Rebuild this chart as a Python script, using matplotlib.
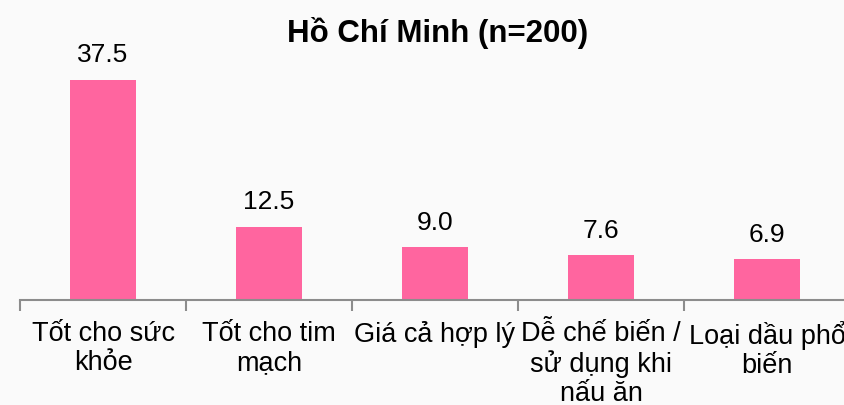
import matplotlib
matplotlib.use("Agg")
from matplotlib import pyplot as plt

categories = [
    "Tốt cho sức\nkhỏe",
    "Tốt cho tim\nmạch",
    "Giá cả hợp lý",
    "Dễ chế biến /\nsử dụng khi\nnấu ăn",
    "Loại dầu phổ\nbiến",
]
values = [37.5, 12.5, 9.0, 7.6, 6.9]
title = "Hồ Chí Minh (n=200)"

plt.rcParams["font.family"] = ["Liberation Sans", "DejaVu Sans"]

fig = plt.figure(figsize=(8.45, 4.05), dpi=100, facecolor="#fafafa")
ax = fig.add_axes([20 / 845, 105 / 405, 830 / 845, 300 / 405])
ax.set_facecolor("none")

x = list(range(len(values)))
bars = ax.bar(x, values, width=0.4, color="#ff659f", zorder=2)
for xi, v in zip(x, values):
    ax.annotate(f"{v:.1f}", (xi, v), xytext=(0, 9), textcoords="offset points",
                ha="center", va="bottom", fontsize=19)

ax.set_xlim(-0.5, len(values) - 0.5)
ax.set_ylim(0, 51.1)
ax.set_xticks(x)
ax.set_xticklabels(categories, fontsize=19.5, linespacing=1.15)
ax.tick_params(axis="x", which="major", length=0, pad=15)
ax.set_xticks([i - 0.5 for i in range(len(values) + 1)], minor=True)
ax.tick_params(axis="x", which="minor", length=8, width=1.5, color="#8c8c8c", direction="out")
ax.set_yticks([])
for s in ["left", "top", "right"]:
    ax.spines[s].set_visible(False)
ax.spines["bottom"].set_color("#8c8c8c")
ax.spines["bottom"].set_linewidth(1.5)

fig.text(438 / 845, 1 - 42 / 405, title, ha="center", va="baseline",
         fontsize=22.5, fontweight="bold")

fig.savefig("out.png", dpi=100, facecolor=fig.get_facecolor())
